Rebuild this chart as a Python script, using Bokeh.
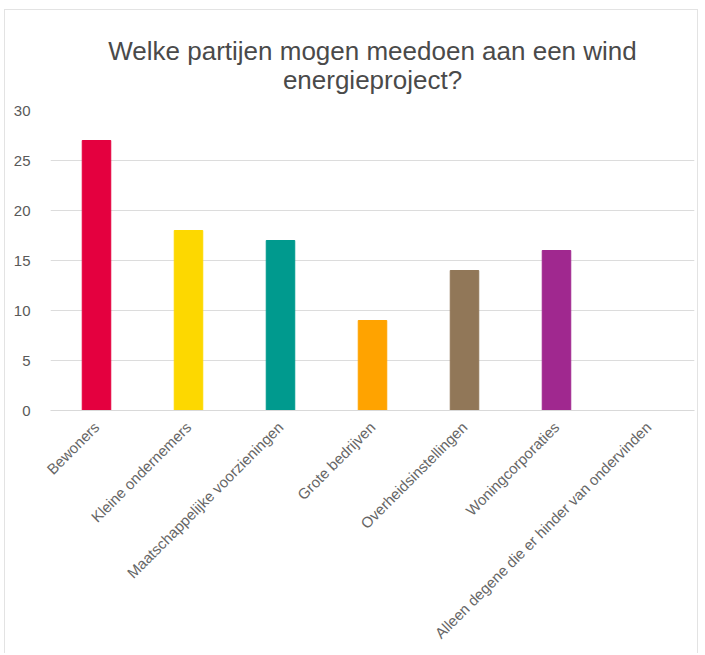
import math
from bokeh.plotting import figure
from bokeh.models import ColumnDataSource, FactorRange, Range1d, FixedTicker
from bokeh.embed import file_html
from bokeh.resources import INLINE

categories = ["Bewoners", "Kleine ondernemers", "Maatschappelijke voorzieningen",
              "Grote bedrijven", "Overheidsinstellingen", "Woningcorporaties",
              "Alleen degene die er hinder van ondervinden"]
values = [27, 18, 17, 9, 14, 16, 0]
colors = ["#E4003F", "#FDD800", "#009A8E", "#FFA300", "#917758", "#A0288F", "#888888"]
y_ticks = [0, 5, 10, 15, 20, 25, 30]
title_text = "Welke partijen mogen meedoen aan een wind\nenergieproject?"

src = ColumnDataSource(dict(cat=categories, val=values, col=colors))

p = figure(width=694, height=644, x_range=FactorRange(*categories),
           y_range=Range1d(0, 30), output_backend="svg", toolbar_location=None,
           min_border_left=45, min_border_right=5, min_border_top=100,
           min_border_bottom=244, title=title_text)
p.styles = {"border-left": "1px solid #e3e3e3", "border-top": "1px solid #e3e3e3",
            "border-right": "1px solid #e3e3e3",
            "margin-left": "4px", "margin-top": "9px"}

p.vbar(x="cat", top="val", width=0.31, color="col", source=src)

p.title.align = "center"
try:
    p.title.text_align = "center"
except AttributeError:
    pass
p.title.text_font = "Liberation Sans"
p.title.text_font_size = "26px"
p.title.text_font_style = "normal"
p.title.text_color = "#4a4a4a"
p.title.text_line_height = 0.95
p.title.standoff = 32

p.outline_line_color = None
p.xgrid.grid_line_color = None
p.ygrid.grid_line_color = "#dcdcdc"
p.ygrid.ticker = FixedTicker(ticks=y_ticks)

p.yaxis.ticker = FixedTicker(ticks=y_ticks)
p.yaxis.axis_line_color = None
p.yaxis.major_tick_line_color = None
p.yaxis.minor_tick_line_color = None
p.yaxis.major_label_standoff = 14
p.yaxis.major_label_text_font = "Liberation Sans"
p.yaxis.major_label_text_font_size = "15px"
p.yaxis.major_label_text_color = "#595959"

p.xaxis.axis_line_color = "#d9d9d9"
p.xaxis.major_tick_line_color = None
p.xaxis.minor_tick_line_color = None
p.xaxis.major_label_orientation = math.pi / 4
p.xaxis.major_label_standoff = 8
p.xaxis.major_label_text_font = "Liberation Sans"
p.xaxis.major_label_text_font_size = "15px"
p.xaxis.major_label_text_color = "#666666"

p.background_fill_color = "white"
p.border_fill_color = "white"

open("out.html", "w").write(file_html(p, INLINE))
